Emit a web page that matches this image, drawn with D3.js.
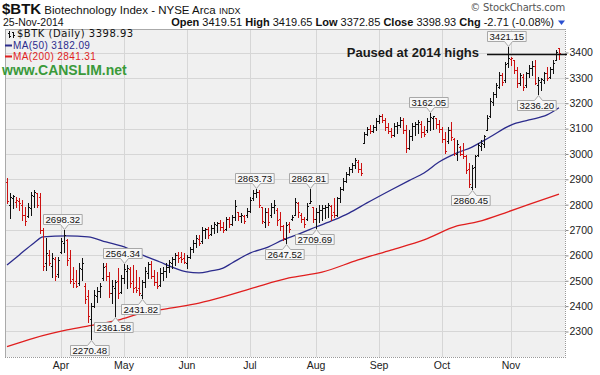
<!DOCTYPE html>
<html>
<head>
<meta charset="utf-8">
<script src="https://cdn.jsdelivr.net/npm/d3@7"></script>
<style>
  body { margin: 0; background: #fff; }
  svg { display: block; font-family: "Liberation Sans", Arial, sans-serif; }
  text { white-space: pre; }
</style>
</head>
<body>
<svg id="chart" width="600" height="375"></svg>
<script>
// daily OHLC, 6-Mar-2014 .. 25-Nov-2014 (trading days)
const opens = [
  2890, 2800, 2826, 2812, 2815, 2800, 2760, 2755, 2785, 2835, 2845, 2830, 2700, 2570, 2600, 2560, 2585, 2525, 2615, 2650,
  2660, 2590, 2505, 2500, 2490, 2545, 2480, 2440, 2350, 2400, 2440, 2460, 2510, 2560, 2520, 2450, 2470, 2500, 2455, 2510,
  2540, 2545, 2500, 2475, 2470, 2445, 2495, 2530, 2565, 2520, 2495, 2485, 2530, 2540, 2555, 2570, 2585, 2600, 2595, 2590,
  2570, 2595, 2625, 2650, 2665, 2655, 2700, 2703, 2685, 2710, 2720, 2728, 2712, 2705, 2745, 2725, 2750, 2770, 2755, 2755,
  2760, 2775, 2825, 2845, 2850, 2790, 2730, 2770, 2760, 2790, 2780, 2745, 2715, 2665, 2725, 2745, 2760, 2805, 2760, 2745,
  2745, 2805, 2790, 2745, 2770, 2780, 2785, 2790, 2795, 2770, 2760, 2825, 2860, 2895, 2920, 2940, 2955, 2970, 2940, 3045,
  3080, 3100, 3090, 3105, 3130, 3150, 3135, 3105, 3090, 3075, 3110, 3115, 3135, 3095, 3025, 3070, 3110, 3120, 3120, 3085,
  3095, 3130, 3140, 3140, 3120, 3100, 3060, 3050, 3095, 3060, 3000, 3029, 3000, 2990, 2940, 2870, 2950, 2995, 3030, 3040,
  3095, 3150, 3205, 3235, 3265, 3310, 3290, 3360, 3375, 3370, 3330, 3280, 3305, 3270, 3318, 3340, 3345, 3270, 3285, 3290,
  3320, 3305, 3335, 3372, 3419.51
];
const highs = [
  2904, 2845, 2838, 2831, 2825, 2818, 2792, 2805, 2851, 2858, 2848, 2845, 2707, 2667, 2621, 2608, 2595, 2595, 2667, 2698.32,
  2665, 2621, 2555, 2542, 2569, 2588, 2490, 2464, 2411, 2464, 2477, 2490, 2569, 2569, 2536, 2503, 2503, 2549, 2523, 2564.34,
  2562, 2555, 2562, 2542, 2516, 2503, 2555, 2575, 2578, 2542, 2536, 2549, 2555, 2569, 2582, 2595, 2608, 2615, 2615, 2608,
  2601, 2634, 2660, 2680, 2680, 2713, 2707, 2713, 2720, 2733, 2733, 2740, 2733, 2753, 2753, 2759, 2818, 2772, 2766, 2759,
  2786, 2832, 2858, 2863.73, 2858, 2792, 2786, 2786, 2805, 2818, 2786, 2772, 2720, 2733, 2733, 2759, 2825, 2812, 2766, 2753,
  2805, 2862.81, 2792, 2786, 2799, 2799, 2799, 2805, 2799, 2825, 2832, 2871, 2904, 2930, 2950, 2963, 2983, 2975, 2963, 3088,
  3107, 3114, 3114, 3140, 3152, 3158, 3140, 3121, 3101, 3121, 3127, 3147, 3140, 3114, 3094, 3121, 3127, 3134, 3130, 3110,
  3140, 3162.05, 3150, 3142, 3134, 3108, 3088, 3108, 3127, 3062, 3055, 3032, 3042, 2996, 2963, 2956, 2996, 3042, 3055, 3075,
  3154, 3219, 3246, 3278, 3324, 3318, 3364, 3421.15, 3384, 3372, 3344, 3320, 3315, 3324, 3350, 3365, 3370, 3305, 3300, 3324,
  3344, 3344, 3370, 3410, 3419.65
];
const lows = [
  2806, 2746, 2786, 2792, 2779, 2740, 2720, 2753, 2759, 2792, 2792, 2687, 2542, 2542, 2562, 2516, 2503, 2515, 2608, 2615,
  2562, 2490, 2477, 2477, 2483, 2503, 2411, 2339, 2270.48, 2398, 2418, 2437, 2503, 2503, 2437, 2411, 2361.58, 2431, 2450, 2490,
  2470, 2477, 2457, 2457, 2444, 2431.82, 2477, 2510, 2510, 2483, 2470, 2480, 2503, 2516, 2536, 2549, 2562, 2575, 2575, 2569,
  2549, 2588, 2615, 2634, 2641, 2650, 2667, 2667, 2680, 2687, 2694, 2700, 2694, 2700, 2713, 2720, 2740, 2740, 2733, 2726,
  2753, 2772, 2818, 2832, 2792, 2726, 2713, 2720, 2753, 2766, 2720, 2700, 2661, 2647.52, 2694, 2740, 2759, 2753, 2733, 2713,
  2740, 2805, 2733, 2709.69, 2733, 2740, 2746, 2753, 2740, 2750, 2755, 2812, 2858, 2891, 2918, 2930, 2943, 2930, 2917, 3042,
  3075, 3081, 3085, 3095, 3121, 3127, 3094, 3081, 3068, 3070, 3081, 3108, 3081, 3009, 3020, 3055, 3075, 3081, 3068, 3070,
  3085, 3094, 3100, 3101, 3088, 3048, 3002, 3045, 3055, 2996, 2976, 2996, 2983, 2924, 2871, 2860.45, 2871, 2990, 3016, 3029,
  3094, 3147, 3193, 3226, 3260, 3272, 3285, 3344, 3351, 3318, 3265, 3272, 3252, 3265, 3305, 3310, 3275, 3236.20, 3252, 3278,
  3292, 3298, 3318, 3370, 3372.85
];
const closes = [
  2815, 2830, 2834, 2820, 2805, 2760, 2735, 2790, 2840, 2850, 2800, 2700, 2560, 2610, 2570, 2590, 2520, 2580, 2655, 2680,
  2580, 2500, 2490, 2480, 2550, 2570, 2430, 2360, 2400, 2445, 2460, 2480, 2555, 2520, 2450, 2480, 2495, 2450, 2510, 2545,
  2550, 2490, 2470, 2465, 2450, 2495, 2540, 2565, 2520, 2495, 2480, 2530, 2540, 2555, 2575, 2585, 2600, 2590, 2585, 2575,
  2595, 2625, 2650, 2668, 2648, 2700, 2703, 2680, 2710, 2722, 2728, 2712, 2700, 2745, 2725, 2750, 2795, 2755, 2760, 2735,
  2775, 2820, 2845, 2850, 2800, 2735, 2770, 2730, 2790, 2800, 2740, 2715, 2670, 2720, 2705, 2750, 2810, 2770, 2745, 2725,
  2795, 2815, 2745, 2770, 2780, 2785, 2790, 2798, 2760, 2758, 2825, 2860, 2895, 2920, 2940, 2955, 2975, 2940, 2925, 3080,
  3100, 3090, 3105, 3130, 3150, 3135, 3105, 3090, 3075, 3110, 3115, 3135, 3095, 3025, 3070, 3110, 3120, 3125, 3085, 3080,
  3130, 3145, 3148, 3120, 3100, 3060, 3010, 3095, 3065, 3005, 3040, 3000, 2990, 2935, 2880, 2945, 2990, 3035, 3045, 3070,
  3140, 3210, 3235, 3270, 3310, 3285, 3355, 3380, 3378, 3330, 3280, 3310, 3265, 3318, 3340, 3345, 3280, 3290, 3295, 3318,
  3300, 3335, 3360, 3401.64, 3398.93
];
const closeBeforeFirst = 2870;

// moving averages at a few bar positions
const ma50Idx = [0, 4, 9, 12, 20, 27, 33, 40, 45, 51, 55, 60, 64, 68, 72, 75, 81, 87, 92, 98, 103, 109, 114, 120, 128, 134, 139, 144, 150, 155, 161, 168, 174, 180, 184];
const ma50 = [2562, 2601, 2649, 2673, 2677, 2673, 2653, 2629, 2602, 2574, 2554, 2535, 2531, 2539, 2550, 2570, 2609, 2633, 2661, 2688, 2712, 2740, 2767, 2807, 2858, 2895, 2925, 2968, 3004, 3027, 3067, 3114, 3134, 3154, 3182.09];
const ma200Idx = [0, 9, 20, 29, 37, 45, 55, 64, 72, 83, 94, 105, 117, 128, 139, 150, 157, 167, 174, 184];
const ma200 = [2240, 2274, 2306, 2326, 2345, 2373, 2393, 2412, 2436, 2475, 2511, 2534, 2582, 2621, 2661, 2716, 2733, 2772, 2801, 2841.31];

const monthIdx = [18, 39, 60, 81, 103, 124, 145, 168];
const monthLabels = ["Apr", "May", "Jun", "Jul", "Aug", "Sep", "Oct", "Nov"];
const priceTicks = [2300, 2400, 2500, 2600, 2700, 2800, 2900, 3000, 3100, 3200, 3300, 3400];

const calloutIdx = [19, 28, 36, 39, 45, 83, 93, 101, 103, 141, 155, 167, 177];
const calloutVal = [2698.32, 2270.48, 2361.58, 2564.34, 2431.82, 2863.73, 2647.52, 2862.81, 2709.69, 3162.05, 2860.45, 3421.15, 3236.20];
const calloutSide = ["high", "low", "low", "high", "low", "high", "low", "high", "low", "high", "low", "high", "low"];

const quote = [["Open", "3419.51"], ["High", "3419.65"], ["Low", "3372.85"], ["Close", "3398.93"], ["Chg", "-2.71 (-0.08%)"]];
const pauseLevel = 3396;
const pauseFromIdx = 160;

const svg = d3.select("#chart");
const plotLeft = 5, plotRight = 565, plotTop = 29, plotBottom = 357;

const x = d3.scaleLinear().domain([-0.67, 186]).range([plotLeft, plotRight]);
const y = d3.scaleLinear().domain([2199.4, 3492.7]).range([plotBottom, plotTop]);

const navy = "#2b2b8c";
const red = "#e01e1e";

svg.append("rect").attr("width", 600).attr("height", 375).attr("fill", "#fff");

// plot background
svg.append("rect")
  .attr("x", plotLeft).attr("y", plotTop)
  .attr("width", plotRight - plotLeft).attr("height", plotBottom - plotTop)
  .attr("fill", "#f0f0f0");

svg.append("defs").append("clipPath").attr("id", "plot")
  .append("rect").attr("x", plotLeft).attr("y", plotTop)
  .attr("width", plotRight - plotLeft).attr("height", plotBottom - plotTop);

const grid = svg.append("g").attr("stroke", "#d6d6d6").attr("shape-rendering", "crispEdges");
grid.selectAll(".h").data(priceTicks).join("line").attr("class", "h")
  .attr("x1", plotLeft).attr("x2", plotRight)
  .attr("y1", (d) => Math.round(y(d)) + 0.5).attr("y2", (d) => Math.round(y(d)) + 0.5);
grid.selectAll(".v").data(monthIdx).join("line").attr("class", "v")
  .attr("y1", plotTop).attr("y2", plotBottom)
  .attr("x1", (d) => Math.round(x(d)) + 0.5).attr("x2", (d) => Math.round(x(d)) + 0.5);

// frame
svg.append("path")
  .attr("d", `M${plotLeft + 0.5},${plotBottom} V${plotTop + 0.5} H${plotRight}`)
  .attr("fill", "none").attr("stroke", "#aaa").attr("shape-rendering", "crispEdges");
svg.append("path")
  .attr("d", `M${plotLeft},${plotBottom + 0.5} H${plotRight + 0.5} V${plotTop}`)
  .attr("fill", "none").attr("stroke", "#999").attr("stroke-dasharray", "1,1")
  .attr("shape-rendering", "crispEdges");

// right price axis
const yAxis = d3.axisRight(y).tickValues(priceTicks).tickFormat(d3.format("d"))
  .tickSize(3).tickPadding(1);
const ya = svg.append("g").attr("transform", `translate(${plotRight + 0.5},0)`).call(yAxis);
ya.select(".domain").remove();
ya.selectAll("line").attr("stroke", "#888");
ya.selectAll("text").attr("fill", "#222").attr("font-size", "10.5px")
  .attr("font-family", "Liberation Sans, Arial, sans-serif");

// month labels
svg.append("g").selectAll("text").data(monthIdx).join("text")
  .attr("x", (d) => x(d)).attr("y", 369)
  .attr("text-anchor", "middle").attr("font-size", "10.5px").attr("fill", "#222")
  .text((d, i) => monthLabels[i]);

const plot = svg.append("g").attr("clip-path", "url(#plot)");

// moving averages
const line = d3.line().x((d) => x(d[0])).y((d) => y(d[1])).curve(d3.curveMonotoneX);
plot.append("path")
  .attr("d", line(ma200Idx.map((d, i) => [d, ma200[i]])))
  .attr("fill", "none").attr("stroke", red).attr("stroke-width", 1.3);
plot.append("path")
  .attr("d", line(ma50Idx.map((d, i) => [d, ma50[i]])))
  .attr("fill", "none").attr("stroke", navy).attr("stroke-width", 1.3);

// OHLC bars
const bars = closes.map((c, i) => ({
  i, o: opens[i], h: highs[i], l: lows[i], c,
  up: c >= (i === 0 ? closeBeforeFirst : closes[i - 1])
}));
plot.append("g").attr("shape-rendering", "crispEdges")
  .selectAll("path").data(bars).join("path")
  .attr("fill", "none")
  .attr("stroke", (d) => (d.up ? "#111" : "#cc1111"))
  .attr("d", (d) => {
    const px = Math.round(x(d.i)) + 0.5;
    const yo = Math.round(y(d.o)) + 0.5;
    const yc = Math.round(y(d.c)) + 0.5;
    return `M${px},${Math.round(y(d.h))}V${Math.round(y(d.l)) + 1}` +
      `M${px - 1.5},${yo}H${px}M${px},${yc}H${px + 1.5}`;
  });

// value callouts
const fmt = d3.format(".2f");
const co = svg.append("g").attr("font-size", "9.6px");
calloutIdx.forEach((idx, k) => {
  const v = calloutVal[k];
  const cx = x(idx);
  const isHigh = calloutSide[k] === "high";
  const tip = isHigh ? y(v) - 1 : y(v) + 1;
  const g = co.append("g");
  const t = g.append("text").text(fmt(v)).attr("fill", "#111").attr("text-anchor", "middle");
  const w = t.node().getComputedTextLength() + 4;
  const bx = Math.round(cx - 1.5 - w / 2) + 0.5;
  const bh = 10;
  const by = isHigh ? Math.round(tip - 5 - bh) + 0.5 : Math.round(tip + 5) + 0.5;
  const base = isHigh ? by + bh : by;
  const dir = isHigh ? 1 : -1;
  const px = Math.round(cx) + 0.5;
  const path = isHigh
    ? `M${bx},${by}H${bx + w}V${base}H${px + 4}L${px},${base + 5 * dir}L${px - 4},${base}H${bx}Z`
    : `M${bx},${by + bh}H${bx + w}V${base}H${px + 4}L${px},${base + 5 * dir}L${px - 4},${base}H${bx}Z`;
  g.insert("path", "text").attr("d", path)
    .attr("fill", "#f7f7f7").attr("stroke", "#a8a8a8").attr("stroke-width", 1);
  t.attr("x", bx + w / 2).attr("y", by + bh - 1.6);
});

// "Paused at 2014 highs" marker
const py = Math.round(y(pauseLevel)) + 0.5;
svg.append("line")
  .attr("x1", x(pauseFromIdx)).attr("x2", plotRight + 2)
  .attr("y1", py).attr("y2", py)
  .attr("stroke", "#111").attr("stroke-width", 1.3);
svg.append("text")
  .attr("x", x(pauseFromIdx) - 8).attr("y", py + 2.5)
  .attr("text-anchor", "end").attr("font-size", "13px").attr("font-weight", "bold")
  .attr("fill", "#1a1a1a")
  .text("Paused at 2014 highs");

// header
const title = svg.append("text").attr("x", 2).attr("y", 14).attr("fill", "#111");
title.append("tspan").attr("font-size", "15px").attr("font-weight", "bold").text("$BTK");
title.append("tspan").attr("font-size", "11.5px").text(" Biotechnology Index - NYSE Arca ");
title.append("tspan").attr("font-size", "9px").text("INDX");

svg.append("text").attr("x", 3).attr("y", 25.5).attr("font-size", "10.5px").attr("fill", "#111")
  .text("25-Nov-2014");

const q = svg.append("text").attr("x", 554).attr("y", 25.5)
  .attr("text-anchor", "end").attr("font-size", "11px").attr("fill", "#111");
quote.forEach(([label, val], k) => {
  q.append("tspan").attr("font-weight", "bold").text(label);
  q.append("tspan").text(" " + val + (k < quote.length - 1 ? " " : ""));
});
svg.append("path").attr("d", "M558,20.5 L565,20.5 L561.5,25 Z").attr("fill", "#2a4fd0");

svg.append("text").attr("x", 565).attr("y", 10.5)
  .attr("text-anchor", "end").attr("font-size", "10px").attr("fill", "#555")
  .attr("font-family", "DejaVu Sans, sans-serif").attr("letter-spacing", "-0.2")
  .text("\u00a9 StockCharts.com");

// legend
svg.append("path")
  .attr("d", "M9.5,31V38M8,33.5H9.5M9.5,36.5H11M13.5,31.5V37.5M12,32.5H13.5M13.5,35H15")
  .attr("stroke", "#111").attr("fill", "none").attr("shape-rendering", "crispEdges");
svg.append("text").attr("x", 17).attr("y", 37)
  .attr("font-family", "DejaVu Sans, sans-serif").attr("font-size", "10px")
  .attr("letter-spacing", "0.5").attr("fill", "#111")
  .text("$BTK (Daily) 3398.93");

[["MA(50) 3182.09", navy, 49], ["MA(200) 2841.31", red, 60]].forEach(([txt, col, by]) => {
  svg.append("line").attr("x1", 5).attr("x2", 12).attr("y1", by - 3.5).attr("y2", by - 3.5)
    .attr("stroke", col).attr("stroke-width", 2);
  svg.append("text").attr("x", 13).attr("y", by).attr("font-size", "10px")
    .attr("letter-spacing", "0.4").attr("fill", col).text(txt);
});

svg.append("text").attr("x", 2).attr("y", 75)
  .attr("font-size", "14px").attr("font-weight", "bold").attr("fill", "#3a9a3a")
  .text("www.CANSLIM.net");
</script>
</body>
</html>
